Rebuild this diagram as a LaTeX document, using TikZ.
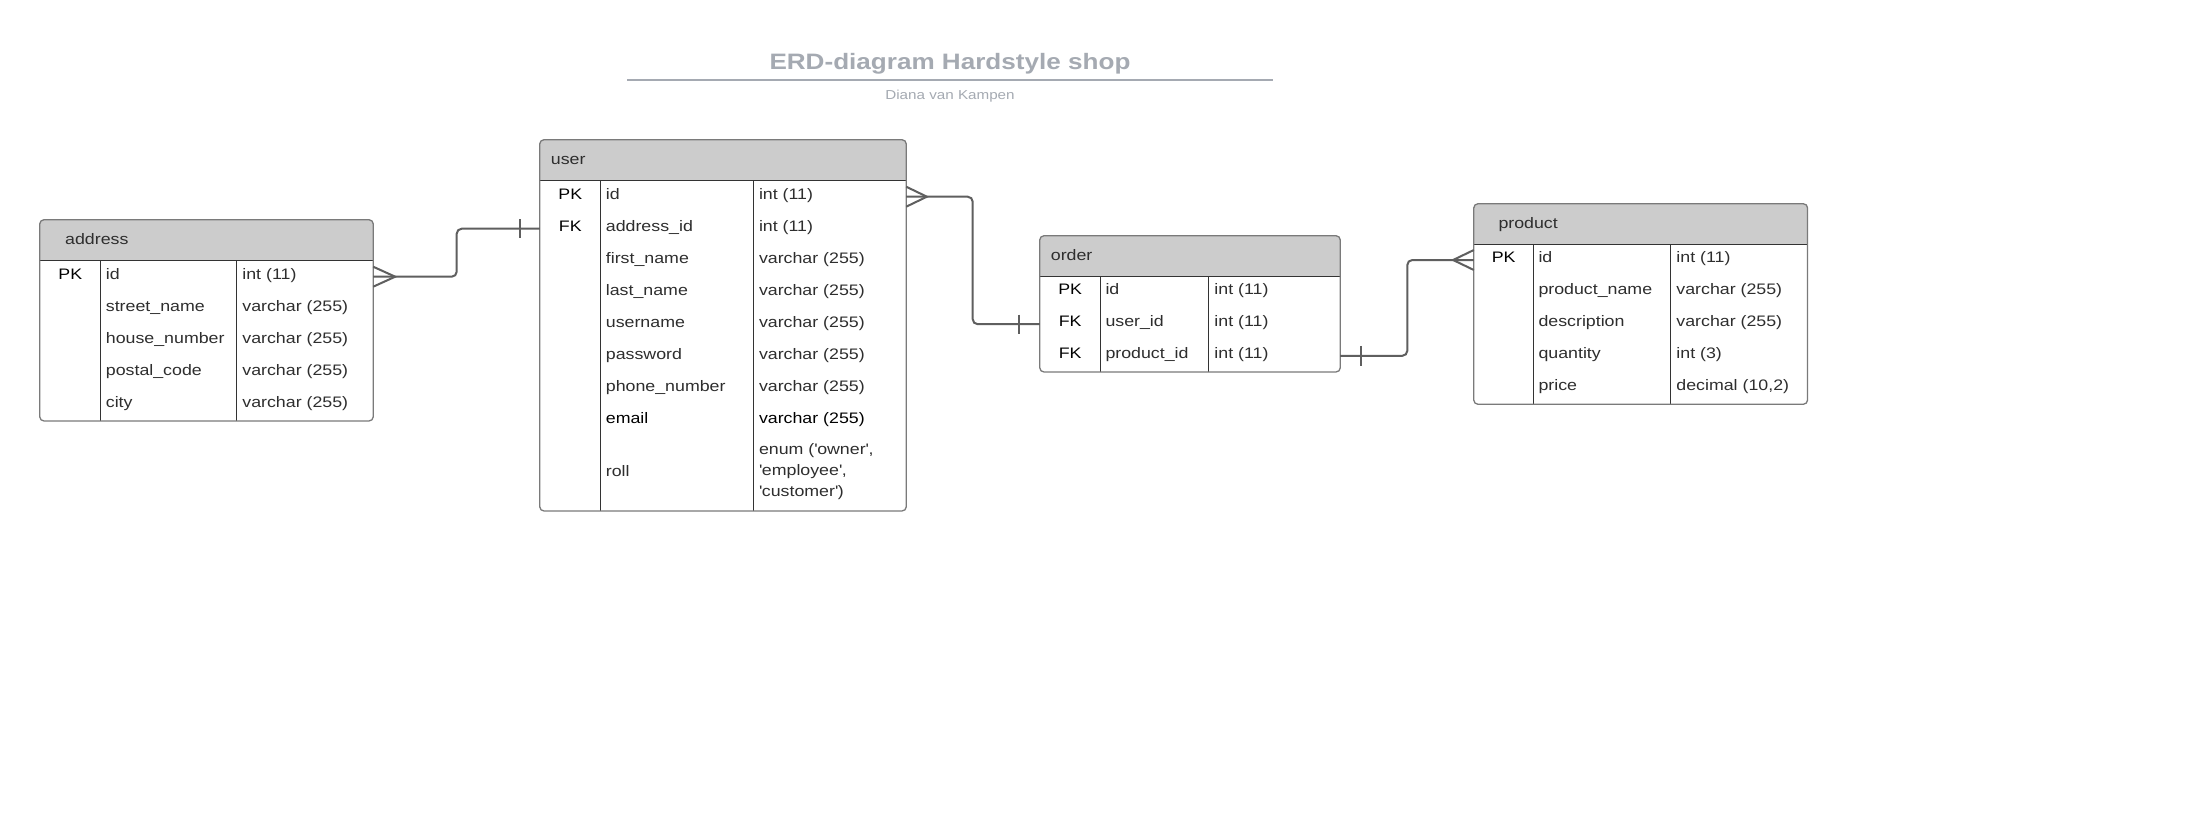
\documentclass[tikz,border=0pt]{standalone}
\usepackage{fontspec}
\newfontfamily\erdf[FakeStretch=1.17]{Liberation Sans}
\usetikzlibrary{fit}
\definecolor{hdrgray}{HTML}{CCCCCC}
\definecolor{boxgray}{HTML}{7A7A7A}
\definecolor{divgray}{HTML}{333333}
\definecolor{conngray}{HTML}{5F5F5F}
\definecolor{txtgray}{HTML}{2E2E2E}
\definecolor{titlegray}{HTML}{A5AAB2}
\tikzset{
  outline/.style={draw=boxgray, line width=1.3pt, rounded corners=4pt},
  divline/.style={draw=divgray, line width=1pt},
  cell/.style={anchor=base west, inner sep=0pt, font=\erdf\fontsize{15.2}{18}\selectfont, text=txtgray},
  keycell/.style={anchor=base, inner sep=0pt, font=\erdf\fontsize{15.2}{18}\selectfont, text=black},
  hdrtext/.style={anchor=base west, inner sep=0pt, font=\erdf\fontsize{15.2}{18}\selectfont, text=txtgray},
  conn/.style={draw=conngray, line width=2pt, rounded corners=5pt},
  foot/.style={draw=conngray, line width=2pt},
}
% #1 name, #2 L, #3 T, #4 R, #5 B, #6 header bottom, #7 c1, #8 c2
\newcommand\erdbox[8]{%
  \node[fit={(#2,#3) (#4,#5)}, inner sep=0pt] (#1) {};
  \fill[white, rounded corners=4pt] (#1.north west) rectangle (#1.south east);
  \begin{scope}
    \clip[rounded corners=4pt] (#1.north west) rectangle (#1.south east);
    \fill[hdrgray] (#2,#3) rectangle (#4,#6);
  \end{scope}
  \draw[divline] (#2,#6) -- (#4,#6);
  \draw[divline] (#7,#6) -- (#7,#5);
  \draw[divline] (#8,#6) -- (#8,#5);
  \draw[outline] (#1.north west) rectangle (#1.south east);
}
% #1 name, #2 idx, #3 row centre y, #4 key x, #5 key, #6 field x, #7 field, #8 type x, #9 type
\newcommand\erdrow[9]{%
  \coordinate (#1-r#2) at (#4,#3);
  \node[keycell] (#1-k#2) at (#4,#3+2.3) {#5};
  \node[cell] (#1-f#2) at (#6,#3+2.3) {#7};
  \node[cell] (#1-t#2) at (#8,#3+2.3) {#9};
}
\begin{document}
\begin{tikzpicture}[x=1pt,y=-1pt]
\useasboundingbox[fill=white] (0,0) rectangle (2200,820);

% title
\node[anchor=base, inner sep=0pt, text=titlegray, font=\erdf\bfseries\fontsize{22.3}{26}\selectfont] (title) at (950,69) {ERD-diagram Hardstyle shop};
\draw[titlegray, line width=2pt] (627,80) -- (1273,80);
\node[anchor=base, inner sep=0pt, text=titlegray, font=\erdf\fontsize{13}{15}\selectfont] (author) at (950,99) {Diana van Kampen};

% address
\erdbox{address}{40}{220}{373}{420.7}{260.7}{100.7}{236.7}
\node[hdrtext] (address-h) at (65,244.5) {address};
\erdrow{address}{1}{276.7}{70.35}{PK}{105.7}{id}{242.2}{int (11)}
\erdrow{address}{2}{308.7}{70.35}{}{105.7}{street\_name}{242.2}{varchar (255)}
\erdrow{address}{3}{340.7}{70.35}{}{105.7}{house\_number}{242.2}{varchar (255)}
\erdrow{address}{4}{372.7}{70.35}{}{105.7}{postal\_code}{242.2}{varchar (255)}
\erdrow{address}{5}{404.7}{70.35}{}{105.7}{city}{242.2}{varchar (255)}

% user
\erdbox{user}{540}{140}{906}{510.7}{180.7}{600.7}{753.3}
\node[hdrtext] (user-h) at (550.7,164.5) {user};
\erdrow{user}{1}{196.7}{570.35}{PK}{605.7}{id}{758.8}{int (11)}
\erdrow{user}{2}{228.7}{570.35}{FK}{605.7}{address\_id}{758.8}{int (11)}
\erdrow{user}{3}{260.7}{570.35}{}{605.7}{first\_name}{758.8}{varchar (255)}
\erdrow{user}{4}{292.7}{570.35}{}{605.7}{last\_name}{758.8}{varchar (255)}
\erdrow{user}{5}{324.7}{570.35}{}{605.7}{username}{758.8}{varchar (255)}
\erdrow{user}{6}{356.7}{570.35}{}{605.7}{password}{758.8}{varchar (255)}
\erdrow{user}{7}{388.7}{570.35}{}{605.7}{phone\_number}{758.8}{varchar (255)}
\erdrow{user}{8}{420.7}{570.35}{}{605.7}{{\color{black}email}}{758.8}{{\color{black}varchar (255)}}
\node[cell] (user-f9) at (605.7,476) {roll};
\node[cell, font=\erdf\fontsize{15.2}{21.3}\selectfont] (user-t9) at (758.8,454) {\begin{tabular}[t]{@{}l@{}}enum (\textquotesingle owner\textquotesingle,\\ \textquotesingle employee\textquotesingle,\\ \textquotesingle customer\textquotesingle)\end{tabular}};

% order
\erdbox{order}{1040}{236}{1340}{371.7}{276.7}{1100.3}{1208.7}
\node[hdrtext] (order-h) at (1050.7,260.5) {order};
\erdrow{order}{1}{292.5}{1070.15}{PK}{1105.3}{id}{1214.2}{int (11)}
\erdrow{order}{2}{324.2}{1070.15}{FK}{1105.3}{user\_id}{1214.2}{int (11)}
\erdrow{order}{3}{355.8}{1070.15}{FK}{1105.3}{product\_id}{1214.2}{int (11)}

% product
\erdbox{product}{1474}{204}{1807.3}{404}{244}{1533.3}{1670.7}
\node[hdrtext] (product-h) at (1498.3,228.2) {product};
\erdrow{product}{1}{260}{1503.65}{PK}{1538.3}{id}{1676.2}{int (11)}
\erdrow{product}{2}{292}{1503.65}{}{1538.3}{product\_name}{1676.2}{varchar (255)}
\erdrow{product}{3}{324}{1503.65}{}{1538.3}{description}{1676.2}{varchar (255)}
\erdrow{product}{4}{356}{1503.65}{}{1538.3}{quantity}{1676.2}{int (3)}
\erdrow{product}{5}{388}{1503.65}{}{1538.3}{price}{1676.2}{decimal (10,2)}

% address (many) -- user (one)
\draw[conn] (address.east |- address-r1) -| (456.7,252) |- (user.west |- user-r2);
\draw[foot] (address.east |- address-r1) ++(0,-10) -- ++(22,10) -- ++(-22,10);
\draw[foot] (user.west |- user-r2) ++(-20,-9.5) -- ++(0,19);

% user (many) -- order (one)
\draw[conn] (user.east |- user-r1) -| (972.7,260) |- (order.west |- order-r2);
\draw[foot] (user.east |- user-r1) ++(0,-10) -- ++(20.7,10) -- ++(-20.7,10);
\draw[foot] (order.west |- order-r2) ++(-20.7,-9.5) -- ++(0,19);

% order (one) -- product (many)
\draw[conn] (order.east |- order-r3) -| (1407.3,308) |- (product.west |- product-r1);
\draw[foot] (order.east |- order-r3) ++(21,-10) -- ++(0,20);
\draw[foot] (product.west |- product-r1) ++(0,-10) -- ++(-20.7,10) -- ++(20.7,10);
\end{tikzpicture}
\end{document}
